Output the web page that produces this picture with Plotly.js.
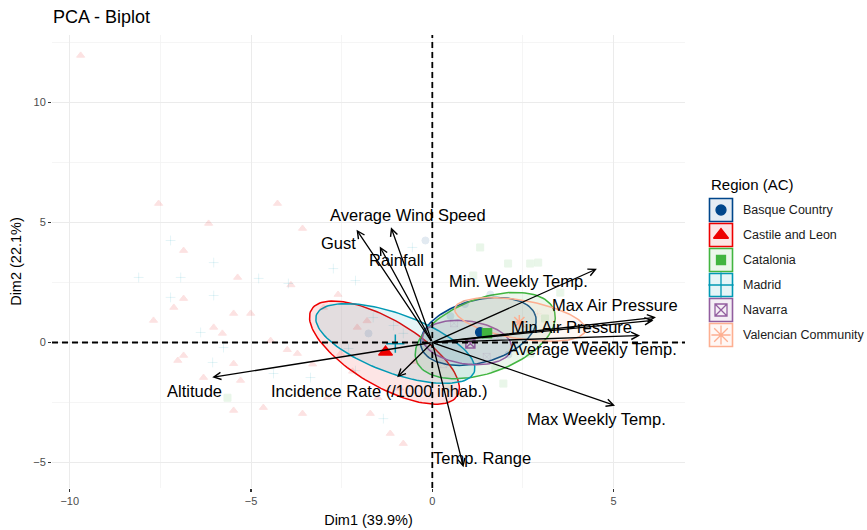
<!DOCTYPE html>
<html><head><meta charset="utf-8">
<script src="https://cdn.plot.ly/plotly-3.0.1.min.js"></script>
<style>body{margin:0;background:#fff}#chart{width:867px;height:530px}</style>
</head><body><div id="chart"></div>
<script>
// ---------- DATA ----------
const regions = ['Basque Country','Castile and Leon','Catalonia','Madrid','Navarra','Valencian Community'];
const regionColors = ['#00468B','#ED0000','#42B540','#0099B4','#925E9F','#FDAF91'];
const regionSymbols = ['circle','triangle-up','square','cross-thin-open','square-x-open','asterisk-open'];

// group means (Dim1, Dim2)
const meanX = [1.32,-1.29,1.51,-1.02,1.05,2.40];
const meanY = [0.43,-0.40,0.39,-0.05,-0.04,0.85];

// confidence ellipses: centre and two half-axis vectors (Dim units)
const ellCx = [1.27,-1.32,1.46,-1.02,0.96,2.42];
const ellCy = [0.46,-0.42,0.29,-0.04,0.00,0.96];
const ellUx = [1.58,2.02,1.90,2.18,1.23,1.80];
const ellUy = [0.64,-1.11,1.05,-0.88,-0.16,-0.38];
const ellVx = [-0.22,-0.44,-0.35,-0.25,-0.05,-0.08];
const ellVy = [1.26,1.84,1.46,1.41,0.91,0.83];

// individual observations (faint)
const basqueX = [-0.19,-1.76,0.90,2.10,1.60,0.50];
const basqueY = [4.25,0.38,1.60,-0.50,2.00,1.10];
const castileX = [-9.70,-6.86,-6.17,-6.86,-7.13,-6.03,-5.79,-6.86,-7.02,-5.48,-6.31,-5.48,-7.55,-5.48,-7.69,-4.27,-3.58,-5.37,-5.01,-4.46,-3.72,-5.29,-4.66,-3.58,-2.89,-1.71,-1.16,-0.80,-2.07,-2.53,-3.00,-2.20,-1.80,-1.50,-0.90,-3.30,-2.60,-0.50,-4.00,-3.90];
const castileY = [11.96,3.83,4.96,1.83,1.46,0.63,0.38,-0.54,-0.75,-0.88,-1.46,-2.83,5.79,1.21,0.92,5.79,4.75,2.71,1.21,0.08,-0.46,-1.58,-2.71,-2.96,-2.29,-2.96,-3.79,-4.21,0.63,-0.46,1.46,-1.20,0.90,-2.30,-1.90,-0.90,2.00,-0.80,-0.30,2.40];
const cataloniaX = [1.32,2.70,2.92,1.13,3.53,3.11,2.70,1.96,1.74,2.09,0.40,-5.65];
const cataloniaY = [3.96,3.29,3.33,2.79,2.08,1.00,-0.46,-1.71,-1.04,3.29,-1.90,-2.30];
const madridX = [-7.22,-6.03,-6.94,-8.10,-7.22,-6.03,-6.39,-5.76,-6.06,-2.73,-2.12,-3.97,-4.79,-1.63,-1.07,-2.31,-2.12,-4.38,-3.36,-1.35,-0.80,-0.55];
const madridY = [4.25,3.33,2.71,2.71,1.88,1.96,0.42,-0.21,-0.83,3.08,2.58,2.46,2.67,1.04,0.71,-0.25,-1.17,-1.29,-1.46,-3.17,0.38,3.96];
const navarraX = [0.60,1.50,0.30,1.80];
const navarraY = [0.80,-0.60,-0.90,0.20];
const valenciaX = [0.41,0.85,2.90,3.40];
const valenciaY = [-2.42,-2.29,1.20,0.50];
const indX = [basqueX,castileX,cataloniaX,madridX,navarraX,valenciaX];
const indY = [basqueY,castileY,cataloniaY,madridY,navarraY,valenciaY];

// variable loadings (arrow tips) and label anchors
const varNames = ['Altitude','Incidence Rate (/1000 inhab.)','Average Wind Speed','Gust','Rainfall','Min. Weekly Temp.','Max Air Pressure','Min Air Pressure','Average Weekly Temp.','Max Weekly Temp.','Temp. Range'];
const varX = [-6.07,-0.97,-1.14,-2.09,-1.45,4.54,6.17,6.10,5.73,5.04,0.86];
const varY = [-1.45,-1.45,4.80,4.70,4.00,3.07,1.05,0.92,0.29,-2.63,-5.20];
const labelX = [-6.57,-1.46,-0.66,-2.58,-0.98,2.37,5.04,3.83,4.42,4.53,1.36];
const labelY = [-2.00,-2.00,5.33,4.13,3.42,2.58,1.58,0.63,-0.29,-3.17,-4.79];

// ---------- helpers ----------
function rgba(hex,a){const n=parseInt(hex.slice(1),16);return `rgba(${n>>16},${(n>>8)&255},${n&255},${a})`;}
const FONT = 'Liberation Sans, Arial, Helvetica, sans-serif';
const W=867,H=530,L=52,R=685,T=35,B=488;
// paper spans from L to W (margin.r = 0); main plot occupies L..R
const px2paperX = p => (p-L)/(W-L);
const px2paperY = p => (B-p)/(B-T);
const LGX0=697, LGX1=867, LGY0=160, LGY1=350;

const traces = [];
// ellipses
regions.forEach((r,i)=>{
  const xs=[],ys=[];
  for(let k=0;k<=120;k++){const t=2*Math.PI*k/120;
    xs.push(ellCx[i]+ellUx[i]*Math.cos(t)+ellVx[i]*Math.sin(t));
    ys.push(ellCy[i]+ellUy[i]*Math.cos(t)+ellVy[i]*Math.sin(t));}
  traces.push({type:'scatter',mode:'lines',x:xs,y:ys,fill:'toself',fillcolor:rgba(regionColors[i],0.1),
    line:{color:regionColors[i],width:1.5},hoverinfo:'skip',showlegend:false});
});
// individuals
regions.forEach((r,i)=>{
  traces.push({type:'scatter',mode:'markers',x:indX[i],y:indY[i],name:r,showlegend:false,
    marker:{symbol:regionSymbols[i],size:7,color:regionColors[i],opacity:0.11,line:{color:regionColors[i],width:1}}});
});
// means
const meanSize=[9,12,9,13,9,12];
regions.forEach((r,i)=>{
  traces.push({type:'scatter',mode:'markers',x:[meanX[i]],y:[meanY[i]],name:r,showlegend:false,
    marker:{symbol:regionSymbols[i],size:meanSize[i],color:regionColors[i],line:{color:regionColors[i],width:1.5}}});
});
// legend keys (own small subplot measured in pixels)
const keyX = regions.map(()=>721);
const keyY = regions.map((r,i)=>210+25*i);
traces.push({type:'scatter',mode:'markers',xaxis:'x2',yaxis:'y2',x:keyX,y:keyY,cliponaxis:false,showlegend:false,hoverinfo:'skip',
  marker:{symbol:'square',size:23,color:regionColors.map(c=>rgba(c,0.1)),line:{color:regionColors,width:1.6}}});
const keySize=[10,13,9,18,12,16];
regions.forEach((r,i)=>{
  traces.push({type:'scatter',mode:'markers',xaxis:'x2',yaxis:'y2',x:[keyX[i]],y:[keyY[i]],cliponaxis:false,showlegend:false,hoverinfo:'skip',
    marker:{symbol:regionSymbols[i],size:keySize[i],color:regionColors[i],line:{color:regionColors[i],width:1.3}}});
});

const annotations = [];
varNames.forEach((v,i)=>{
  annotations.push({x:varX[i],y:varY[i],ax:0,ay:0,xref:'x',yref:'y',axref:'x',ayref:'y',text:'',showarrow:true,
    arrowhead:5,arrowsize:1.1,arrowwidth:1.3,arrowcolor:'#000',standoff:0,startstandoff:0});
});
varNames.forEach((v,i)=>{
  annotations.push({x:labelX[i],y:labelY[i],xref:'x',yref:'y',text:v,showarrow:false,
    font:{family:FONT,size:16.5,color:'#000'},xanchor:'center',yanchor:'middle'});
});
annotations.push({x:px2paperX(709),y:px2paperY(184),xref:'paper',yref:'paper',text:'Region (AC)',showarrow:false,
  xanchor:'left',yanchor:'middle',font:{family:FONT,size:15,color:'#000'}});
regions.forEach((r,i)=>{
  annotations.push({x:px2paperX(741),y:px2paperY(keyY[i]),xref:'paper',yref:'paper',text:r,showarrow:false,
    xanchor:'left',yanchor:'middle',font:{family:FONT,size:12.5,color:'#1a1a1a'}});
});

const shapes = [
  {type:'line',xref:'x',yref:'y',x0:-10.49,x1:6.97,y0:0,y1:0,line:{color:'#000',width:1.8,dash:'6px,4px'},layer:'above'},
  {type:'line',xref:'x',yref:'y',x0:0,x1:0,y0:-6.06,y1:12.81,line:{color:'#000',width:1.8,dash:'6px,4px'},layer:'above'}
];

const axisCommon = {showgrid:true,gridcolor:'#ebebeb',gridwidth:1,zeroline:false,showline:false,
  ticks:'outside',ticklen:3,tickwidth:1.1,tickcolor:'#333',tickfont:{family:FONT,size:11,color:'#4d4d4d'},
  minor:{dtick:2.5,showgrid:true,gridcolor:'#f3f3f3',gridwidth:0.8,ticks:''}};

const layout = {
  width:W,height:H,margin:{l:L,r:0,t:T,b:H-B},paper_bgcolor:'#fff',plot_bgcolor:'#fff',showlegend:false,
  title:{text:'PCA - Biplot',xref:'container',yref:'container',x:53/W,xanchor:'left',y:1-17/H,yanchor:'middle',
    font:{family:FONT,size:18,color:'#000'}},
  xaxis:Object.assign({},axisCommon,{domain:[0,px2paperX(R)],range:[-10.49,6.97],dtick:5,tick0:0,
    title:{text:'Dim1 (39.9%)',font:{family:FONT,size:14.5,color:'#000'},standoff:8}}),
  yaxis:Object.assign({},axisCommon,{range:[-6.06,12.81],dtick:5,tick0:0,
    title:{text:'Dim2 (22.1%)',font:{family:FONT,size:14.5,color:'#000'},standoff:8}}),
  xaxis2:{domain:[px2paperX(LGX0),1],anchor:'y2',range:[LGX0,LGX1],visible:false,fixedrange:true,showgrid:false},
  yaxis2:{domain:[px2paperY(LGY1),px2paperY(LGY0)],anchor:'x2',range:[LGY1,LGY0],visible:false,fixedrange:true,showgrid:false},
  annotations:annotations,shapes:shapes
};
Plotly.newPlot('chart',traces,layout,{displayModeBar:false,staticPlot:true});
</script></body></html>
